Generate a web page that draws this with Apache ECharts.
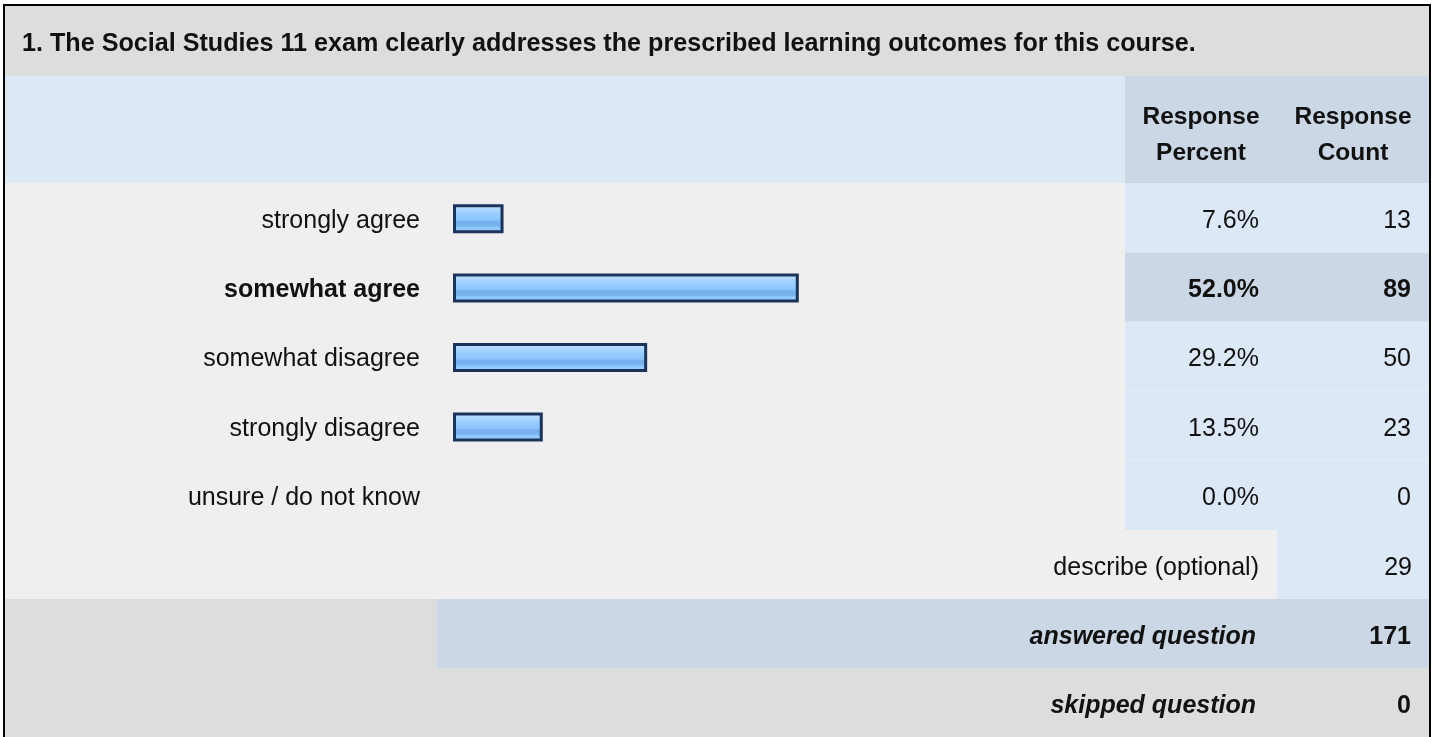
<!DOCTYPE html>
<html>
<head>
<meta charset="utf-8">
<script src="https://cdn.jsdelivr.net/npm/echarts@6/dist/echarts.min.js"></script>
<style>
html,body{margin:0;padding:0;background:#fff;}
#chart{width:1432px;height:737px;}
</style>
</head>
<body>
<div id="chart"></div>
<script>
const questionTitle = '1. The Social Studies 11 exam clearly addresses the prescribed learning outcomes for this course.';
const categories = ['strongly agree', 'somewhat agree', 'somewhat disagree', 'strongly disagree', 'unsure / do not know'];
const percents = [7.6, 52.0, 29.2, 13.5, 0.0];
const counts = [13, 89, 50, 23, 0];
const columnHeaders = ['Response\nPercent', 'Response\nCount'];
const optionalLabel = 'describe (optional)';
const optionalCount = 29;
const summaryLabels = ['answered question', 'skipped question'];
const summaryCounts = [171, 0];

const FONT = '"Liberation Sans", Arial, Helvetica, sans-serif';
const maxIdx = percents.indexOf(Math.max.apply(null, percents));
const TEXT_DY = 3;

const chart = echarts.init(document.getElementById('chart'), null, {renderer: 'canvas'});

const gridTop = 183, gridH = 347;

function cellSeries(gridIndex, values, fmt) {
  return {
    type: 'custom',
    xAxisIndex: gridIndex, yAxisIndex: gridIndex,
    data: values.map((v, i) => [0, i, v]),
    encode: {x: 0, y: 1},
    silent: true,
    renderItem: function (params, api) {
      const idx = params.dataIndex;
      const start = api.coord([0, idx]);
      const size = api.size([1, 1]);
      const w = size[0], h = size[1];
      const x = start[0], y = start[1] - h / 2;
      const hi = idx === maxIdx;
      return {
        type: 'group',
        children: [
          {type: 'rect', shape: {x: x, y: y, width: w, height: h},
           style: {fill: hi ? '#cbd7e5' : '#dde8f6'}},
          {type: 'text', x: x + w - 18, y: start[1] + TEXT_DY,
           style: {text: fmt(values[idx]), fill: '#111', align: 'right', verticalAlign: 'middle',
                   font: (hi ? 'bold ' : '') + '25px ' + FONT}}
        ]
      };
    }
  };
}

const barGradient = new echarts.graphic.LinearGradient(0, 0, 0, 1, [
  {offset: 0, color: '#d2e8ff'},
  {offset: 0.15, color: '#b4d9ff'},
  {offset: 0.35, color: '#98ccff'},
  {offset: 0.55, color: '#8cc4fb'},
  {offset: 0.6, color: '#76b0ee'},
  {offset: 0.75, color: '#78b3f0'},
  {offset: 0.8, color: '#8fc6ff'},
  {offset: 1, color: '#a2d1ff'}
]);

const option = {
  animation: false,
  backgroundColor: '#ffffff',
  textStyle: {fontFamily: FONT},
  grid: [
    {left: 453, top: gridTop + 1, width: 665, height: gridH, containLabel: false},
    {left: 1125, top: gridTop, width: 152, height: gridH, containLabel: false},
    {left: 1277, top: gridTop, width: 152, height: gridH, containLabel: false}
  ],
  xAxis: [
    {gridIndex: 0, type: 'value', min: 0, max: 100, show: false},
    {gridIndex: 1, type: 'value', min: 0, max: 1, show: false},
    {gridIndex: 2, type: 'value', min: 0, max: 1, show: false}
  ],
  yAxis: [
    {gridIndex: 0, type: 'category', data: categories, inverse: true,
     axisLine: {show: false}, axisTick: {show: false}, splitLine: {show: false},
     axisLabel: {
       margin: 33, fontSize: 25, color: '#111', fontFamily: FONT,
       padding: [2 * TEXT_DY - 2, 0, 0, 0],
       formatter: function (v, i) { return i === maxIdx ? '{b|' + v + '}' : v; },
       rich: {b: {fontWeight: 'bold', fontSize: 25, color: '#111', fontFamily: FONT}}
     }},
    {gridIndex: 1, type: 'category', data: categories, inverse: true, show: false},
    {gridIndex: 2, type: 'category', data: categories, inverse: true, show: false}
  ],
  series: [
    {
      type: 'bar', xAxisIndex: 0, yAxisIndex: 0,
      data: percents.map(v => v > 0 ? v : {value: v, itemStyle: {borderWidth: 0, opacity: 0}}),
      barWidth: 29,
      silent: true,
      itemStyle: {color: barGradient, borderColor: '#1b3358', borderWidth: 3}
    },
    cellSeries(1, percents, v => v.toFixed(1) + '%'),
    cellSeries(2, counts, v => String(v))
  ],
  graphic: [
    {type: 'rect', z: -10, shape: {x: 5, y: 6, width: 1424, height: 70}, style: {fill: '#dddddd'}},
    {type: 'rect', z: -10, shape: {x: 5, y: 76, width: 1120, height: 107}, style: {fill: '#dde8f5'}},
    {type: 'rect', z: -10, shape: {x: 1125, y: 76, width: 304, height: 107}, style: {fill: '#cbd7e5'}},
    {type: 'rect', z: -10, shape: {x: 5, y: 183, width: 1120, height: 347}, style: {fill: '#efefef'}},
    {type: 'rect', z: -10, shape: {x: 5, y: 530, width: 1272, height: 69}, style: {fill: '#efefef'}},
    {type: 'rect', z: -10, shape: {x: 1277, y: 530, width: 152, height: 69}, style: {fill: '#dde8f6'}},
    {type: 'rect', z: -10, shape: {x: 5, y: 599, width: 432, height: 69}, style: {fill: '#dddddd'}},
    {type: 'rect', z: -10, shape: {x: 437, y: 599, width: 992, height: 69}, style: {fill: '#cbd7e5'}},
    {type: 'rect', z: -10, shape: {x: 5, y: 668, width: 1424, height: 80}, style: {fill: '#dddddd'}},
    {type: 'rect', z: 50, shape: {x: 4, y: 5, width: 1426, height: 745},
     style: {fill: null, stroke: '#000', lineWidth: 2}},
    {type: 'text', z: 60, x: 22, y: 44,
     style: {text: questionTitle, fill: '#111', font: 'bold 25.15px ' + FONT, verticalAlign: 'middle'}},
    {type: 'text', z: 60, x: 1201, y: 135,
     style: {text: columnHeaders[0], fill: '#111', font: 'bold 24.5px ' + FONT, align: 'center', verticalAlign: 'middle', lineHeight: 36}},
    {type: 'text', z: 60, x: 1353, y: 135,
     style: {text: columnHeaders[1], fill: '#111', font: 'bold 24.5px ' + FONT, align: 'center', verticalAlign: 'middle', lineHeight: 36}},
    {type: 'text', z: 60, x: 1259, y: 565 + TEXT_DY,
     style: {text: optionalLabel, fill: '#111', font: '25px ' + FONT, align: 'right', verticalAlign: 'middle'}},
    {type: 'text', z: 60, x: 1412, y: 565 + TEXT_DY,
     style: {text: String(optionalCount), fill: '#111', font: '25px ' + FONT, align: 'right', verticalAlign: 'middle'}},
    {type: 'text', z: 60, x: 1256, y: 634 + TEXT_DY,
     style: {text: summaryLabels[0], fill: '#111', font: 'italic bold 25px ' + FONT, align: 'right', verticalAlign: 'middle'}},
    {type: 'text', z: 60, x: 1411, y: 634 + TEXT_DY,
     style: {text: String(summaryCounts[0]), fill: '#111', font: 'bold 25px ' + FONT, align: 'right', verticalAlign: 'middle'}},
    {type: 'text', z: 60, x: 1256, y: 703 + TEXT_DY,
     style: {text: summaryLabels[1], fill: '#111', font: 'italic bold 25px ' + FONT, align: 'right', verticalAlign: 'middle'}},
    {type: 'text', z: 60, x: 1411, y: 703 + TEXT_DY,
     style: {text: String(summaryCounts[1]), fill: '#111', font: 'bold 25px ' + FONT, align: 'right', verticalAlign: 'middle'}}
  ]
};

chart.setOption(option);
</script>
</body>
</html>
